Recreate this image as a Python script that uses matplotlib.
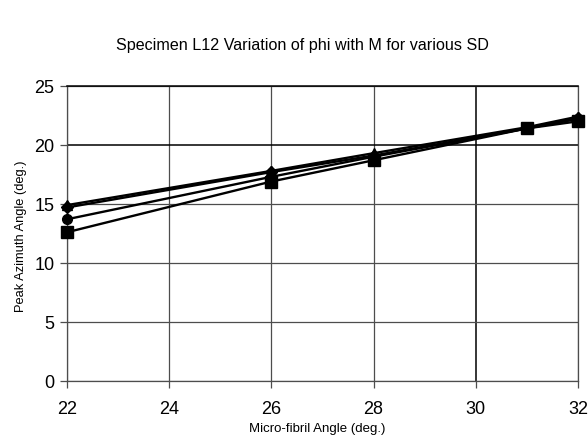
import matplotlib
matplotlib.use("Agg")
import matplotlib.pyplot as plt

plt.rcParams["font.family"] = ["Liberation Sans", "DejaVu Sans"]

INK = "#000000"
GRID = "#4d4d4d"

# micro-fibril angle (deg.) and fitted peak azimuth for each SD
mfa = [22, 26, 28, 31, 32]
phi_square = [12.6, 16.9, 18.7, 21.4, 22.0]
phi_circle = [13.7, 17.3, 19.0, 21.4, 22.2]
phi_diamond = [14.7, 17.7, 19.1, 21.4, 22.3]
phi_triangle = [14.9, 17.8, 19.3, 21.5, 22.4]

x_ticks = [22, 24, 26, 28, 30, 32]
y_ticks = [0, 5, 10, 15, 20, 25]

fig = plt.figure(figsize=(5.88, 4.39), dpi=100)
ax = fig.add_axes([0.114, 0.130, 0.869, 0.672])

series = [
    (phi_square, "s", 8.5),
    (phi_circle, "o", 7),
    (phi_diamond, "D", 6),
    (phi_triangle, "^", 7.5),
]
for vals, mk, ms in series:
    ax.plot(mfa, vals, color=INK, lw=1.7, marker=mk, ms=ms,
            markerfacecolor=INK, markeredgecolor=INK, zorder=3, clip_on=False)

ax.set_xlim(22, 32)
ax.set_ylim(0, 25)
ax.set_xticks(x_ticks)
ax.set_yticks(y_ticks)
ax.grid(True, color=GRID, lw=0.9)
ax.set_axisbelow(True)
# the 30 and 20 grid lines print a touch heavier
ax.get_xgridlines()[x_ticks.index(30)].set(color=INK, lw=1.1)
ax.get_ygridlines()[y_ticks.index(20)].set(color=INK, lw=1.1)
ax.tick_params(direction="out", length=5, width=0.9, colors=GRID,
               labelcolor=INK, labelsize=13, pad=4)
ax.tick_params(axis="x", pad=9)
for side in ax.spines.values():
    side.set_color(GRID)
    side.set_linewidth(0.9)
ax.spines["top"].set_color(INK)
ax.spines["top"].set_linewidth(1.1)

fig.text(0.515, 0.897, "Specimen L12 Variation of phi with M for various SD",
         ha="center", va="center", fontsize=11.6, color=INK)
fig.text(0.539, 0.022, "Micro-fibril Angle (deg.)",
         ha="center", va="center", fontsize=9.5, color=INK)
fig.text(0.036, 0.462, "Peak Azimuth Angle (deg.)", rotation=90,
         ha="center", va="center", fontsize=9.3, color=INK)

fig.savefig("out.png", dpi=100, facecolor="white")
